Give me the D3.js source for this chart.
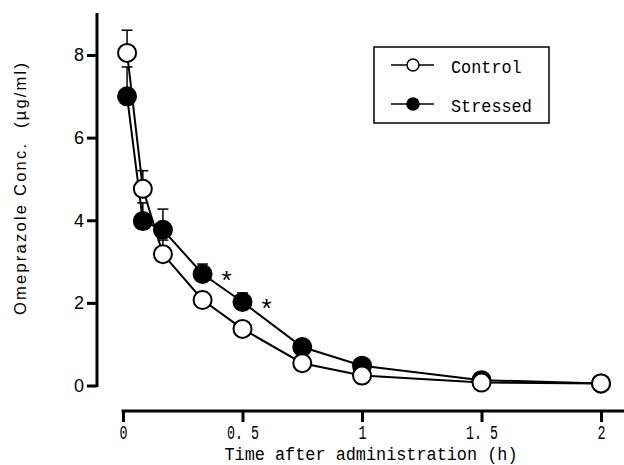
<!DOCTYPE html>
<html><head><meta charset="utf-8">
<script src="https://cdn.jsdelivr.net/npm/d3@7/dist/d3.min.js"></script>
<style>html,body{margin:0;padding:0;background:#fff;}svg{display:block;}</style>
</head><body>
<svg id="chart" width="624" height="465"></svg>
<script>
// Data (time in hours, concentration in µg/ml)
const times = [0.017, 0.083, 0.167, 0.333, 0.5, 0.75, 1, 1.5, 2];
const control = [8.05, 4.76, 3.18, 2.07, 1.37, 0.54, 0.24, 0.07, 0.05];
const controlSE = [0.55, 0.44, 0.34, 0.19, 0.08, 0.05, 0.04, 0.03, 0.02];
const stressed = [7.0, 3.98, 3.77, 2.70, 2.02, 0.93, 0.48, 0.13, 0.05];
const stressedSE = [0.71, 0.44, 0.50, 0.24, 0.22, 0.08, 0.05, 0.03, 0.02];
const sigTimes = [0.333, 0.5];
const xTicks = [0, 0.5, 1, 1.5, 2];
const xTickLabels = ["0", "0. 5", "1", "1. 5", "2"];
const yTicks = [0, 2, 4, 6, 8];
const seriesNames = ["Control", "Stressed"];

const svg = d3.select("#chart");
const x = d3.scaleLinear().domain([0, 2]).range([123, 601]);
const y = d3.scaleLinear().domain([0, 8]).range([385.5, 55]);
const mono = "Liberation Mono, DejaVu Sans Mono, monospace";
const sans = "Liberation Sans, Arial, sans-serif";

// Y axis
const yAxis = d3.axisLeft(y).tickValues(yTicks).tickSize(10).tickPadding(3).tickFormat(d3.format("d"));
const gy = svg.append("g").attr("transform", "translate(97,0)").call(yAxis);
gy.select(".domain").remove();
gy.append("line").attr("x1", 0).attr("x2", 0).attr("y1", 13).attr("y2", 387)
  .attr("stroke", "#000").attr("stroke-width", 3);
gy.selectAll(".tick line").attr("stroke-width", 3);
gy.selectAll(".tick text").attr("font-family", sans)
  .attr("font-size", 18).attr("fill", "#000");

// X axis
const xAxis = d3.axisBottom(x).tickValues(xTicks).tickSize(11).tickPadding(3)
  .tickFormat((d, i) => xTickLabels[i]);
const gx = svg.append("g").attr("transform", "translate(0,411)").call(xAxis);
gx.select(".domain").remove();
gx.append("line").attr("x1", 121.5).attr("x2", 624).attr("y1", 0).attr("y2", 0)
  .attr("stroke", "#000").attr("stroke-width", 3);
gx.selectAll(".tick line").attr("stroke-width", 3);
gx.selectAll(".tick text").attr("font-family", mono)
  .attr("font-size", 20).attr("fill", "#000").style("white-space", "pre")
  .attr("textLength", (d, i) => xTickLabels[i].length * 8)
  .attr("lengthAdjust", "spacingAndGlyphs");

// Axis titles
svg.append("text").attr("x", 371).attr("y", 460).attr("text-anchor", "middle")
  .attr("font-family", mono).attr("font-size", 18)
  .attr("textLength", 293).attr("lengthAdjust", "spacingAndGlyphs")
  .text("Time after administration (h)");
svg.append("text").attr("transform", "translate(26,189) rotate(-90)").attr("text-anchor", "middle")
  .attr("font-family", sans).attr("font-size", 16.5)
  .attr("textLength", 252).attr("lengthAdjust", "spacing").style("white-space", "pre")
  .text("Omeprazole Conc.  (\u00b5g/ml)");

const line = d3.line().x(d => x(d[0])).y(d => y(d[1]));
const series = [
  {name: seriesNames[0], vals: control, se: controlSE, fill: "#fff"},
  {name: seriesNames[1], vals: stressed, se: stressedSE, fill: "#000"}
];

// lines
series.forEach(s => {
  svg.append("path").datum(times.map((t, i) => [t, s.vals[i]]))
    .attr("d", line).attr("fill", "none").attr("stroke", "#000").attr("stroke-width", 2);
});
// error bars
series.forEach(s => {
  const g = svg.append("g").attr("stroke", "#000").attr("stroke-width", 1.5);
  times.forEach((t, i) => {
    const cx = x(t), y0 = y(s.vals[i]), y1 = y(s.vals[i] + s.se[i]);
    g.append("line").attr("x1", cx).attr("x2", cx).attr("y1", y0).attr("y2", y1);
    g.append("line").attr("x1", cx - 5.5).attr("x2", cx + 5.5).attr("y1", y1).attr("y2", y1);
  });
});
// markers: stressed first, control on top
[series[1], series[0]].forEach(s => {
  svg.append("g").selectAll("circle").data(times).join("circle")
    .attr("cx", t => x(t)).attr("cy", (t, i) => y(s.vals[i])).attr("r", 9)
    .attr("fill", s.fill).attr("stroke", "#000").attr("stroke-width", 2);
});

// significance asterisks
sigTimes.forEach(t => {
  const i = times.indexOf(t);
  svg.append("text").attr("x", x(t) + 24).attr("y", y(stressed[i]) + 15)
    .attr("text-anchor", "middle").attr("font-family", sans)
    .attr("font-size", 26).text("*");
});

// legend
const lg = svg.append("g");
lg.append("rect").attr("x", 374).attr("y", 47).attr("width", 175).attr("height", 76)
  .attr("fill", "#fff").attr("stroke", "#000").attr("stroke-width", 1.5);
series.forEach((s, k) => {
  const ly = k === 0 ? 65 : 104;
  lg.append("line").attr("x1", 391).attr("x2", 434).attr("y1", ly).attr("y2", ly)
    .attr("stroke", "#000").attr("stroke-width", 1.5);
  lg.append("circle").attr("cx", 413).attr("cy", ly).attr("r", 6)
    .attr("fill", s.fill).attr("stroke", "#000").attr("stroke-width", 1.5);
  lg.append("text").attr("x", 451).attr("y", ly + 7.5)
    .attr("font-family", mono).attr("font-size", 18)
    .attr("textLength", s.name.length * 10.1).attr("lengthAdjust", "spacingAndGlyphs")
    .text(s.name);
});
</script>
</body></html>
